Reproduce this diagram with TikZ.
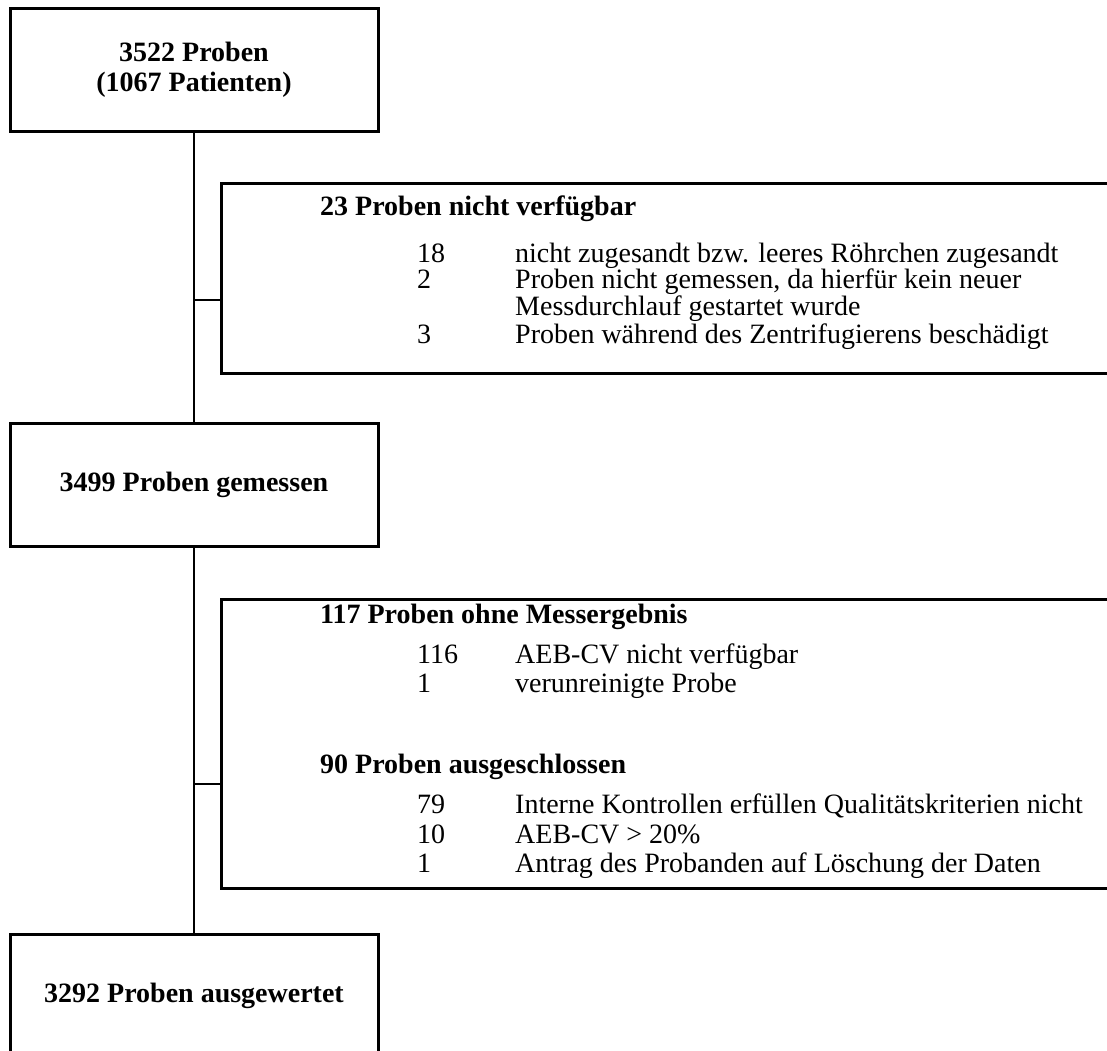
\documentclass[tikz,border=0pt]{standalone}
\usepackage{fontspec}
\setmainfont{Liberation Serif}
\usetikzlibrary{positioning}

\begin{document}
\begin{tikzpicture}[x=1pt,y=-1pt,
    box/.style={draw,line width=3pt,minimum width=368pt,minimum height=123pt,align=center,inner sep=0pt,font=\fontsize{28}{30}\selectfont\bfseries},
    sidebox/.style={draw,line width=3pt,anchor=north west,inner sep=0pt,minimum width=900pt},
    head/.style={anchor=base west,inner sep=0pt,font=\fontsize{28}{30}\selectfont\bfseries},
    num/.style={anchor=base west,inner sep=0pt,font=\fontsize{28}{30}\selectfont},
    txt/.style={anchor=base west,inner sep=0pt,font=\fontsize{28}{30}\selectfont}]
    \useasboundingbox (0,0) rectangle (1107,1050);
    % main column
    \node[box] (proben) at (194,69.5) {3522 Proben\\(1067 Patienten)};
    \node[box] (gemessen) at (194,484.5) {3499 Proben gemessen};
    \node[box] (ausgewertet) at (194,995.5) {3292 Proben ausgewertet};
    \draw[line width=2.8pt] (proben) -- (gemessen);
    \draw[line width=2.8pt] (gemessen) -- (ausgewertet);
    % side boxes
    \node[sidebox,minimum height=190pt] (nichtverf) at (220,182) {};
    \node[sidebox,minimum height=289pt] (ohneerg) at (220,598) {};
    \coordinate (j1) at (194,300);
    \coordinate (j2) at (194,784);
    \draw[line width=1.7pt] (j1) -- (j1 -| nichtverf.west);
    \draw[line width=1.7pt] (j2) -- (j2 -| ohneerg.west);
    % texts of the first side box
    \node[head] (h1) at (320,215) {23 Proben nicht verfügbar};
    \foreach \y/\n/\t [count=\i] in {262/18/{nicht zugesandt bzw. leeres Röhrchen zugesandt},
        288/2/{Proben nicht gemessen, da hierfür kein neuer},
        315//{Messdurchlauf gestartet wurde},
        343/3/{Proben während des Zentrifugierens beschädigt}}{
      \node[num] (na\i) at (417,\y) {\n};
      \node[txt] (ta\i) at (515,\y) {\t};
    }
    % texts of the second side box
    \node[head] (h2) at (320,623) {117 Proben ohne Messergebnis};
    \foreach \y/\n/\t [count=\i] in {663/116/{AEB-CV nicht verfügbar},
        692/1/{verunreinigte Probe}}{
      \node[num] (nb\i) at (417,\y) {\n};
      \node[txt] (tb\i) at (515,\y) {\t};
    }
    \node[head] (h3) at (320,773) {90 Proben ausgeschlossen};
    \foreach \y/\n/\t [count=\i] in {813/79/{Interne Kontrollen erfüllen Qualitätskriterien nicht},
        843/10/{AEB-CV > 20\%},
        872/1/{Antrag des Probanden auf Löschung der Daten}}{
      \node[num] (nc\i) at (417,\y) {\n};
      \node[txt] (tc\i) at (515,\y) {\t};
    }
\end{tikzpicture}
\end{document}
